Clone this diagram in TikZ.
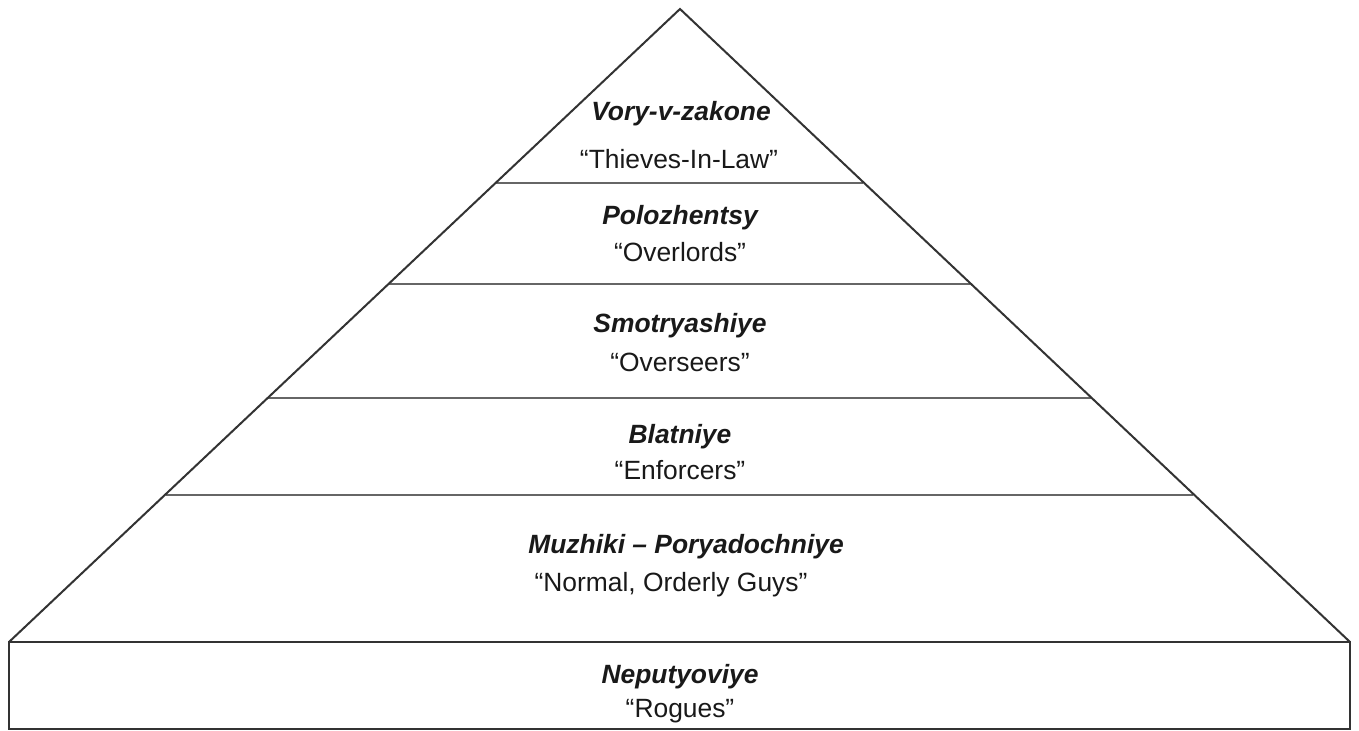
\documentclass[tikz,border=0pt]{standalone}
\usepackage{fontspec}
\setmainfont{Liberation Sans}
\begin{document}
\begin{tikzpicture}[x=0.5pt,y=-0.5pt,
  outline/.style={draw=black!80,line width=1pt,line join=miter},
  divider/.style={draw=black!60,line width=0.75pt},
  title/.style={font=\fontsize{13.2}{15}\selectfont\bfseries\itshape,text=black!90,inner sep=0pt},
  sub/.style={font=\fontsize{13.2}{15}\selectfont,text=black!90,inner sep=0pt}]
\useasboundingbox (0,0) rectangle (1359,731);
\fill[white] (0,0) rectangle (1359,731);
% apex and base
\coordinate (apex) at (680,9);
\coordinate (bl) at (9,642);
\coordinate (br) at (1350,642);
\coordinate (bbl) at (9,729);
\coordinate (bbr) at (1350,729);
% dividers
\coordinate (d1l) at (496,183); \coordinate (d1r) at (863,183);
\coordinate (d2l) at (389,284); \coordinate (d2r) at (970,284);
\coordinate (d3l) at (268,398); \coordinate (d3r) at (1091,398);
\coordinate (d4l) at (166,495); \coordinate (d4r) at (1193,495);
\draw[divider] (d1l) -- (d1r);
\draw[divider] (d2l) -- (d2r);
\draw[divider] (d3l) -- (d3r);
\draw[divider] (d4l) -- (d4r);
\draw[outline] (bl) -- (apex) -- (br);
\draw[outline] (bl) -- (br) -- (bbr) -- (bbl) -- cycle;
% labels
\node[title] (t1) at (681,114) {Vory-v-zakone};
\node[sub] (s1) at (679,159) {“Thieves-In-Law”};
\node[title] (t2) at (680,218) {Polozhentsy};
\node[sub] (s2) at (680,252) {“Overlords”};
\node[title] (t3) at (680,326) {Smotryashiye};
\node[sub] (s3) at (680,362) {“Overseers”};
\node[title] (t4) at (680,437) {Blatniye};
\node[sub] (s4) at (680,470) {“Enforcers”};
\node[title] (t5) at (686,547) {Muzhiki – Poryadochniye};
\node[sub] (s5) at (671,585) {“Normal, Orderly Guys”};
\node[title] (t6) at (680,677) {Neputyoviye};
\node[sub] (s6) at (680,711) {“Rogues”};
\end{tikzpicture}
\end{document}
